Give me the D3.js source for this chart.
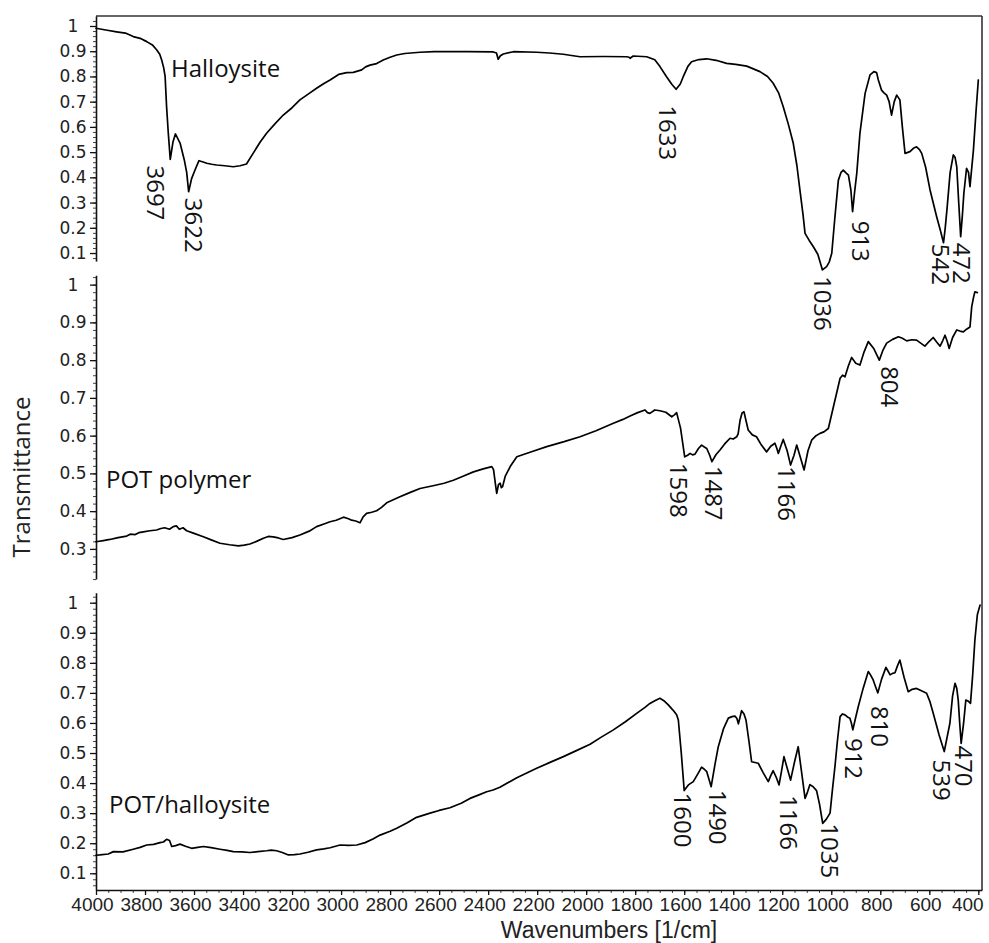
<!DOCTYPE html>
<html>
<head>
<meta charset="utf-8">
<script src="https://cdn.jsdelivr.net/npm/d3@7"></script>
<style>
  html, body { margin: 0; padding: 0; background: #fff; }
  svg { display: block; }
</style>
</head>
<body>
<svg id="chart" width="989" height="943"></svg>
<script>
// ---------------- data ----------------
const xMajorTicks = d3.range(4000, 399, -200);
const xMinorTicks = d3.range(4000, 385, -50);

const sampleNames = ["Halloysite", "POT polymer", "POT/halloysite"];

// Halloysite spectrum: wavenumber [1/cm], transmittance
const halloysiteWn = [4000,3960,3916,3880,3848,3820,3793,3770,3752,3740,3732,3724,3718,3712,3705,3697,3686,3676,3657,3640,3630,3622,3610,3596,3580,3566,3548,3528,3508,3474,3440,3412,3386,3359,3330,3304,3270,3236,3200,3168,3130,3100,3070,3045,3010,2977,2950,2916,2900,2882,2855,2828,2800,2773,2740,2678,2620,2569,2480,2379,2366,2359,2350,2338,2297,2202,2150,2093,2060,2025,1930,1835,1825,1821,1808,1753,1720,1699,1672,1650,1633,1616,1604,1585,1570,1540,1508,1470,1427,1390,1345,1291,1260,1237,1215,1196,1175,1155,1140,1128,1115,1107,1090,1073,1055,1036,1019,1008,998,985,971,960,951,940,930,920,913,905,896,883,862,842,826,815,808,795,785,774,764,754,743,733,720,710,699,679,665,652,640,631,615,597,570,555,542,535,527,515,502,495,488,480,472,465,459,448,440,434,420,409,400];
const halloysiteT  = [0.991,0.984,0.977,0.972,0.958,0.951,0.938,0.925,0.905,0.888,0.865,0.835,0.800,0.680,0.575,0.471,0.540,0.572,0.536,0.470,0.420,0.343,0.395,0.429,0.466,0.462,0.456,0.452,0.449,0.446,0.442,0.446,0.453,0.495,0.540,0.575,0.612,0.647,0.676,0.707,0.733,0.753,0.772,0.786,0.808,0.815,0.816,0.826,0.838,0.845,0.851,0.865,0.876,0.885,0.891,0.896,0.898,0.898,0.898,0.897,0.893,0.868,0.882,0.889,0.898,0.896,0.893,0.888,0.883,0.878,0.879,0.878,0.876,0.872,0.881,0.878,0.866,0.839,0.799,0.768,0.749,0.770,0.799,0.840,0.858,0.867,0.870,0.864,0.852,0.848,0.841,0.819,0.800,0.773,0.735,0.680,0.610,0.535,0.445,0.350,0.250,0.178,0.150,0.125,0.095,0.033,0.046,0.065,0.099,0.244,0.389,0.420,0.429,0.418,0.409,0.350,0.264,0.340,0.416,0.575,0.733,0.806,0.819,0.815,0.786,0.746,0.735,0.726,0.700,0.647,0.700,0.726,0.707,0.600,0.495,0.502,0.515,0.521,0.510,0.495,0.440,0.350,0.244,0.190,0.141,0.200,0.283,0.420,0.489,0.480,0.442,0.300,0.165,0.250,0.337,0.436,0.420,0.363,0.508,0.667,0.786];

// POT polymer spectrum
const polymerWn = [4000,3970,3943,3910,3875,3860,3840,3825,3807,3780,3753,3735,3720,3700,3685,3672,3660,3645,3630,3600,3562,3530,3494,3455,3419,3395,3372,3345,3317,3297,3277,3256,3236,3200,3168,3130,3100,3070,3045,3020,2990,2970,2957,2940,2923,2910,2896,2875,2855,2835,2814,2760,2720,2678,2620,2580,2542,2500,2460,2420,2385,2378,2370,2365,2358,2351,2346,2341,2330,2310,2283,2220,2161,2090,2025,1960,1889,1850,1821,1790,1760,1750,1740,1720,1699,1675,1651,1640,1631,1615,1598,1586,1576,1566,1556,1542,1529,1518,1508,1496,1487,1470,1454,1435,1413,1400,1386,1380,1372,1364,1356,1348,1339,1322,1305,1285,1264,1247,1230,1222,1216,1206,1196,1180,1166,1152,1141,1125,1111,1095,1080,1062,1046,1030,1012,990,964,954,944,930,917,900,883,866,849,826,804,790,774,750,726,710,692,672,652,635,618,600,584,570,556,545,536,527,519,505,488,475,461,448,434,427,420,414,404];
const polymerT  = [0.319,0.322,0.325,0.330,0.334,0.339,0.338,0.343,0.345,0.348,0.350,0.354,0.356,0.352,0.359,0.361,0.352,0.356,0.348,0.341,0.332,0.324,0.315,0.311,0.308,0.310,0.313,0.320,0.328,0.333,0.332,0.329,0.325,0.330,0.337,0.347,0.359,0.366,0.372,0.376,0.384,0.380,0.376,0.374,0.369,0.385,0.394,0.397,0.401,0.410,0.422,0.438,0.449,0.460,0.468,0.474,0.482,0.493,0.504,0.512,0.518,0.510,0.470,0.447,0.470,0.474,0.462,0.465,0.493,0.518,0.544,0.558,0.571,0.584,0.597,0.613,0.633,0.643,0.652,0.661,0.668,0.661,0.659,0.668,0.666,0.662,0.650,0.655,0.661,0.620,0.544,0.548,0.553,0.549,0.551,0.566,0.575,0.570,0.566,0.548,0.531,0.550,0.562,0.578,0.593,0.591,0.597,0.605,0.641,0.660,0.663,0.640,0.615,0.602,0.597,0.575,0.557,0.572,0.580,0.566,0.553,0.572,0.590,0.560,0.522,0.548,0.575,0.540,0.509,0.560,0.588,0.600,0.606,0.610,0.619,0.680,0.752,0.760,0.756,0.785,0.807,0.792,0.787,0.822,0.849,0.830,0.800,0.825,0.845,0.855,0.862,0.858,0.851,0.854,0.853,0.845,0.837,0.850,0.860,0.848,0.837,0.852,0.866,0.850,0.831,0.860,0.880,0.877,0.875,0.882,0.888,0.941,0.965,0.981,0.979];

// POT/halloysite composite spectrum
const compositeWn = [4000,3984,3950,3929,3890,3848,3820,3793,3765,3739,3725,3712,3700,3691,3675,3657,3635,3610,3585,3562,3530,3494,3465,3440,3405,3372,3340,3304,3285,3263,3240,3215,3190,3168,3135,3100,3070,3045,3004,2970,2936,2902,2870,2841,2800,2773,2730,2692,2637,2600,2556,2510,2474,2440,2406,2380,2352,2283,2202,2150,2093,2040,1984,1940,1889,1840,1794,1760,1740,1718,1699,1680,1665,1645,1631,1624,1612,1600,1591,1583,1563,1545,1529,1518,1508,1490,1475,1461,1440,1420,1405,1393,1385,1379,1372,1366,1356,1348,1336,1325,1298,1278,1257,1247,1237,1225,1213,1203,1193,1180,1166,1150,1135,1120,1107,1097,1087,1074,1060,1048,1035,1020,1005,995,985,975,964,954,944,934,924,918,912,900,890,870,849,840,829,820,810,795,777,768,760,750,740,730,720,703,686,670,652,630,611,597,584,560,539,528,516,505,495,488,482,476,470,460,451,440,432,423,414,404,393];
const compositeT  = [0.160,0.161,0.164,0.172,0.171,0.180,0.186,0.194,0.196,0.202,0.204,0.213,0.209,0.189,0.192,0.197,0.190,0.183,0.186,0.189,0.185,0.180,0.176,0.172,0.171,0.169,0.172,0.175,0.177,0.175,0.169,0.161,0.162,0.164,0.170,0.178,0.181,0.185,0.194,0.193,0.194,0.202,0.214,0.227,0.240,0.250,0.268,0.286,0.300,0.309,0.318,0.333,0.349,0.360,0.371,0.377,0.386,0.418,0.449,0.468,0.488,0.508,0.529,0.552,0.577,0.604,0.632,0.652,0.665,0.675,0.682,0.672,0.660,0.642,0.627,0.610,0.500,0.375,0.385,0.394,0.405,0.430,0.453,0.446,0.438,0.388,0.460,0.521,0.580,0.616,0.621,0.623,0.615,0.597,0.620,0.641,0.630,0.610,0.540,0.471,0.466,0.435,0.405,0.425,0.441,0.420,0.394,0.440,0.488,0.450,0.410,0.470,0.521,0.430,0.349,0.370,0.395,0.388,0.375,0.330,0.266,0.280,0.300,0.380,0.455,0.540,0.621,0.630,0.627,0.620,0.616,0.600,0.577,0.620,0.654,0.715,0.771,0.760,0.743,0.722,0.700,0.745,0.785,0.772,0.760,0.765,0.767,0.790,0.809,0.752,0.704,0.712,0.715,0.706,0.699,0.670,0.632,0.560,0.505,0.550,0.599,0.690,0.732,0.715,0.676,0.600,0.532,0.600,0.676,0.672,0.665,0.760,0.876,0.960,0.992];

// labelled bands of each spectrum
const halloysitePeaks = [3697, 3622, 1633, 1036, 913, 542, 472];
const polymerPeaks    = [1598, 1487, 1166, 804];
const compositePeaks  = [1600, 1490, 1166, 1035, 912, 810, 539, 470];

// ---------------- layout ----------------
const svg = d3.select("#chart");
const left = 96, right = 982, axisY = 890;

const x = d3.scaleLinear().domain([4000, 385]).range([left, right]);

// each stacked panel: value range of its axis and the pixel band it occupies
const panels = [
  { name: sampleNames[0], wn: halloysiteWn, t: halloysiteT, peaks: halloysitePeaks,
    lo: 0.068, hi: 1.04, y0: 261.1, y1: 15.9, ticks: d3.range(1, 11).map(d => d / 10),
    nameX: 171, nameY: 77,
    labelOffsets: [[-15, 6], [5, 6], [-9, 16], [0, 6], [8, 9], [-3, 1], [1, 6]] },
  { name: sampleNames[1], wn: polymerWn, t: polymerT, peaks: polymerPeaks,
    lo: 0.22, hi: 1.025, y0: 579.1, y1: 275.2, ticks: d3.range(3, 11).map(d => d / 10),
    nameX: 106, nameY: 488,
    labelOffsets: [[-6, 6], [1, 4], [-4, 1], [10, 6]] },
  { name: sampleNames[2], wn: compositeWn, t: compositeT, peaks: compositePeaks,
    lo: 0.045, hi: 1.033, y0: 889.8, y1: 592.8, ticks: d3.range(1, 11).map(d => d / 10),
    nameX: 109, nameY: 813,
    labelOffsets: [[-2, 2], [6, 3], [-2, 15], [7, 0], [1, 8], [2, 13], [-3, 8], [2, 2]] }
];

const tickFont = "'Liberation Sans', Arial, sans-serif";
const textFont = "'Open Sans', 'Noto Sans', sans-serif";
const ink = "#111";

// frame: top border and right border
svg.append("line").attr("x1", left).attr("x2", right).attr("y1", 16).attr("y2", 16)
  .attr("stroke", "#333").attr("stroke-width", 1.6);
svg.append("line").attr("x1", right).attr("x2", right).attr("y1", 16).attr("y2", axisY)
  .attr("stroke", "#333").attr("stroke-width", 1.6);

panels.forEach(p => {
  const y = d3.scaleLinear().domain([p.lo, p.hi]).range([p.y0, p.y1]);
  const g = svg.append("g");

  // minor ticks
  const minor = d3.range(Math.ceil(p.lo * 50) / 50, p.hi, 0.02);
  g.append("g").attr("transform", `translate(${left},0)`)
    .call(d3.axisLeft(y).tickValues(minor).tickSize(3).tickFormat(""))
    .call(a => a.select(".domain").remove())
    .call(a => a.selectAll("line").attr("stroke", "#444").attr("stroke-width", 1));

  // major ticks and axis line
  const ax = g.append("g").attr("transform", `translate(${left},0)`)
    .call(d3.axisLeft(y).tickValues(p.ticks).tickSize(6).tickSizeOuter(0)
      .tickFormat(d => d === 1 ? "1" : d3.format(".1f")(d)));
  ax.select(".domain").attr("stroke", ink).attr("stroke-width", 1.6);
  ax.selectAll(".tick line").attr("stroke", ink).attr("stroke-width", 1.3);
  ax.selectAll(".tick text")
    .attr("x", -23).attr("text-anchor", "middle")
    .attr("font-family", "'DejaVu Sans', sans-serif").attr("font-size", 17).attr("fill", "#222");

  // spectrum
  const pts = p.wn.map((w, i) => [w, p.t[i]]);
  const line = d3.line().x(d => x(d[0])).y(d => y(d[1])).curve(d3.curveLinear);
  g.append("path").datum(pts).attr("d", line)
    .attr("fill", "none").attr("stroke", "#000").attr("stroke-width", 1.7)
    .attr("stroke-linejoin", "round").attr("stroke-linecap", "round");

  // sample name
  g.append("text").attr("x", p.nameX).attr("y", p.nameY)
    .attr("font-family", textFont).attr("font-size", 24).attr("fill", "#111")
    .text(p.name);

  // band labels, placed just below each labelled minimum
  p.peaks.forEach((w, i) => {
    const v = p.t[p.wn.indexOf(w)];
    const [dx, dy] = p.labelOffsets[i];
    g.append("text")
      .attr("transform", `translate(${x(w) + dx},${y(v) + dy}) rotate(90)`)
      .attr("dy", "0.35em")
      .attr("font-family", textFont).attr("font-size", 24).attr("fill", "#111")
      .text(w);
  });
});

// x axis
const xMinor = svg.append("g").attr("transform", `translate(0,${axisY})`)
  .call(d3.axisBottom(x).tickValues(xMinorTicks).tickSize(3).tickFormat(""));
xMinor.select(".domain").remove();
xMinor.selectAll("line").attr("stroke", "#444");

const xAx = svg.append("g").attr("transform", `translate(0,${axisY})`)
  .call(d3.axisBottom(x).tickValues(xMajorTicks).tickSize(5).tickSizeOuter(0).tickFormat(d3.format("d")));
xAx.select(".domain").attr("stroke", ink).attr("stroke-width", 1.6);
xAx.selectAll(".tick line").attr("stroke", ink).attr("stroke-width", 1.3);
xAx.selectAll(".tick text")
  .attr("y", 8).attr("dy", "0.71em").attr("dx", d => d === 400 ? -11 : -4)
  .attr("font-family", tickFont).attr("font-size", 19).attr("fill", "#222");

// axis titles
svg.append("text").attr("x", 609).attr("y", 938).attr("text-anchor", "middle")
  .attr("font-family", tickFont).attr("font-size", 23).attr("fill", "#222")
  .text("Wavenumbers [1/cm]");

svg.append("text").attr("transform", "translate(22,477) rotate(-90)")
  .attr("text-anchor", "middle").attr("dy", "0.35em")
  .attr("font-family", textFont).attr("font-size", 24).attr("fill", "#222")
  .text("Transmittance");
</script>
</body>
</html>
